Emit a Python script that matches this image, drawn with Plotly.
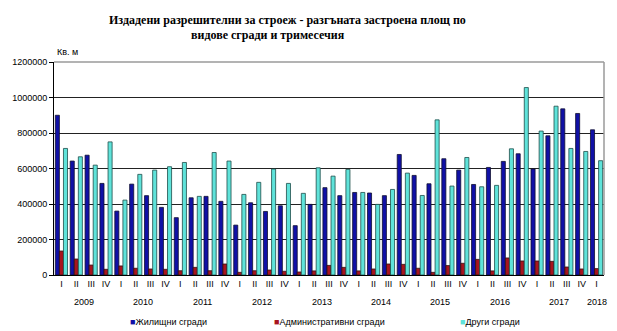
import plotly.graph_objects as go

quarters = ["I", "II", "III", "IV"] * 9 + ["I"]
years = ["2009", "2010", "2011", "2012", "2013", "2014", "2015", "2016", "2017", "2018"]
year_counts = [4, 4, 4, 4, 4, 4, 4, 4, 4, 1]

series_names = ["Жилищни сгради", "Административни сгради", "Други сгради"]

residential = [900000, 642000, 675000, 516000,
               360000, 512000, 447000, 381000,
               323000, 435000, 443000, 415000,
               281000, 407000, 358000, 390000,
               278000, 398000, 492000, 447000,
               465000, 462000, 447000, 679000,
               561000, 514000, 655000, 591000,
               510000, 606000, 640000, 683000,
               597000, 784000, 936000, 910000,
               818000]
administrative = [135000, 90000, 56000, 32000,
                  51000, 38000, 34000, 32000,
                  24000, 43000, 24000, 62000,
                  15000, 24000, 28000, 21000,
                  17000, 23000, 54000, 43000,
                  23000, 34000, 62000, 60000,
                  38000, 15000, 53000, 66000,
                  88000, 23000, 96000, 79000,
                  79000, 77000, 45000, 34000,
                  36000]
other = [713000, 666000, 619000, 750000,
         422000, 567000, 591000, 610000,
         634000, 443000, 690000, 642000,
         454000, 522000, 597000, 516000,
         460000, 604000, 557000, 595000,
         465000, 398000, 482000, 574000,
         448000, 874000, 501000, 662000,
         497000, 505000, 711000, 1056000,
         811000, 951000, 713000, 696000,
         644000]

colors = ["#1010A6", "#A8141E", "#5FE3DA"]
edge = ["#101030", "#301010", "#1E4E4A"]

x_idx = list(range(len(quarters)))

fig = go.Figure()
for name, vals, c, e in zip(series_names, [residential, administrative, other], colors, edge):
    fig.add_trace(go.Bar(x=x_idx, y=vals, name=name, marker=dict(color=c, line=dict(color=e, width=0.8)),
                         showlegend=False))

FONT = "Liberation Sans, Arial, sans-serif"

annotations = []
# year labels centred below their quarters
start = 0
for y, n in zip(years, year_counts):
    center = start + (n - 1) / 2
    annotations.append(dict(x=center, y=0, xref="x", yref="paper", yshift=-20, text=y, showarrow=False,
                            font=dict(family=FONT, size=9, color="#000"), yanchor="top"))
    start += n

fig.update_layout(
    width=617, height=331,
    margin=dict(l=54, r=13, t=62, b=56),
    paper_bgcolor="white", plot_bgcolor="white",
    barmode="group", bargap=0.18, bargroupgap=0.0,
    xaxis=dict(tickmode="array", tickvals=x_idx, ticktext=quarters, range=[-0.5, len(quarters) - 0.5],
               showline=True, linecolor="#000", linewidth=1, ticks="", showgrid=False,
               tickfont=dict(family=FONT, size=9, color="#000"), tickangle=0),
    yaxis=dict(range=[0, 1200000], dtick=200000, tickformat="d", showline=True, linecolor="#000",
               linewidth=1, ticks="outside", ticklen=4, tickcolor="#000", showgrid=True,
               gridcolor="#222222", gridwidth=1, zeroline=False,
               tickfont=dict(family=FONT, size=9, color="#000")),
    font=dict(family=FONT, size=9, color="#000"),
    showlegend=False,
)

fig.add_shape(type="line", xref="paper", yref="paper", x0=0, x1=1, y0=1, y1=1,
              line=dict(color="#9a9a9a", width=1.5), layer="above")
fig.add_shape(type="line", xref="paper", yref="paper", x0=1, x1=1, y0=0, y1=1,
              line=dict(color="#9a9a9a", width=1.5), layer="above")

# title lines
title_font = dict(family="Liberation Serif, Times New Roman, serif", size=12, color="#000")
annotations.append(dict(xref="paper", yref="paper", x=(287 - 54) / 550, y=1, yshift=33,
                        text="<b>Издадени разрешителни за строеж - разгъната застроена площ по</b>",
                        showarrow=False, font=title_font, xanchor="center", yanchor="bottom"))
annotations.append(dict(xref="paper", yref="paper", x=(268 - 54) / 550, y=1, yshift=18,
                        text="<b>видове сгради и тримесечия</b>",
                        showarrow=False, font=title_font, xanchor="center", yanchor="bottom"))
# unit label
annotations.append(dict(xref="paper", yref="paper", x=0, xshift=1, y=1, yshift=3, text="Кв. м",
                        showarrow=False, font=dict(family=FONT, size=9, color="#000"),
                        xanchor="left", yanchor="bottom"))

# legend built as text entries
legend_x = [128, 272, 458]
for name, c, lx in zip(series_names, colors, legend_x):
    annotations.append(dict(xref="paper", yref="paper", x=(lx - 54) / 550, y=0, yshift=-40,
                            text=f'<span style="color:{c}">■</span>{name}', showarrow=False,
                            font=dict(family=FONT, size=9, color="#000"), xanchor="left", yanchor="top"))

fig.update_layout(annotations=annotations)
fig.write_html("out.html")
